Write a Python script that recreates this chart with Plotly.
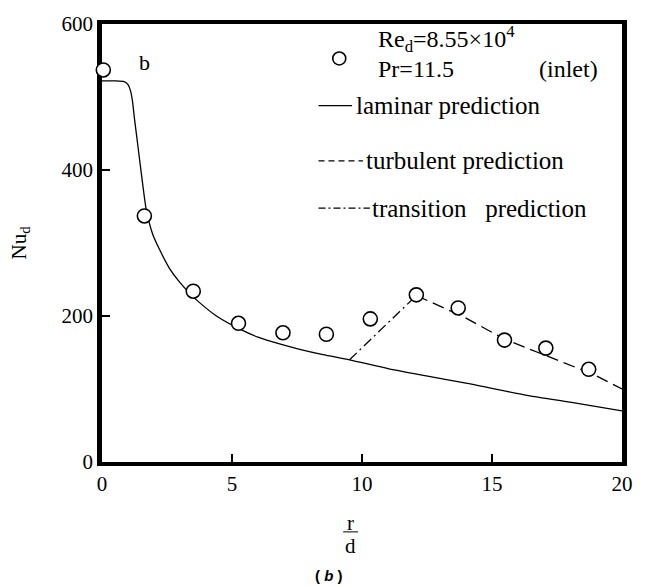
import plotly.graph_objects as go

# ---------------- data ----------------
exp_x = [0.05, 1.63, 3.51, 5.25, 6.96, 8.63, 10.32, 12.09, 13.7, 15.48, 17.07, 18.72]
exp_y = [537, 337, 234, 190, 177, 175, 196, 229, 211, 167, 156, 127]

lam_x = [0, 0.5, 0.85, 1.0, 1.1, 1.17, 1.25, 1.37, 1.56, 1.7, 1.95, 2.2, 2.6, 2.97,
         3.4, 3.73, 4.4, 5.25, 6.0, 6.9, 7.53, 8.5, 9.52, 11.0, 12.47, 14.0, 16.4, 18.0, 20.0]
lam_y = [522, 522, 521, 517, 508, 495, 470, 436, 382, 346, 312, 292, 265, 247,
         230, 219, 200, 183, 171, 161, 155, 147, 140, 128, 118, 108, 91, 82, 70]

tra_x = [9.52, 12.09]
tra_y = [140, 228]

tur_x = [12.09, 13.9, 15.5, 17.0, 18.9, 20.0]
tur_y = [228, 199, 168, 147, 120, 100]

x_ticks = [0, 5, 10, 15, 20]
y_ticks = [0, 200, 400, 600]

# ---------------- layout geometry ----------------
W, H = 645, 586
L, R, T, B = 102, 17, 17, 124
PW, PH = W - L - R, H - T - B


def px(x):
    return (x - L) / PW


def py(y):
    return (H - B - y) / PH


SERIF = "Liberation Serif"
SANS = "Liberation Sans"

fig = go.Figure()

fig.add_trace(go.Scatter(x=lam_x, y=lam_y, mode="lines",
                         line=dict(color="black", width=1.3, shape="spline", smoothing=0.6),
                         name="laminar prediction", showlegend=False))
fig.add_trace(go.Scatter(x=tra_x, y=tra_y, mode="lines",
                         line=dict(color="black", width=1.3, dash="10px,4px,2px,4px"),
                         name="transition prediction", showlegend=False))
fig.add_trace(go.Scatter(x=tur_x, y=tur_y, mode="lines",
                         line=dict(color="black", width=1.3, dash="12px,6px"),
                         name="turbulent prediction", showlegend=False))
fig.add_trace(go.Scatter(x=exp_x, y=exp_y, mode="markers", cliponaxis=False,
                         marker=dict(symbol="circle", size=14, color="white",
                                     line=dict(color="black", width=1.6)),
                         name="data", showlegend=False))

annos = []
shapes = []


def text(s, x, y, size, xanchor="left", font=SERIF):
    annos.append(dict(text=s, x=px(x), y=py(y), xref="paper", yref="paper",
                      xanchor=xanchor, yanchor="middle", showarrow=False,
                      font=dict(family=font, size=size, color="black")))


def seg(x0, x1, y, dash="solid"):
    shapes.append(dict(type="line", xref="paper", yref="paper",
                       x0=px(x0), x1=px(x1), y0=py(y), y1=py(y),
                       line=dict(color="black", width=1.3, dash=dash)))


# panel letter
text("b", 145, 56, 22, "center")

# legend block
shapes.append(dict(type="circle", xref="paper", yref="paper",
                   xsizemode="pixel", ysizemode="pixel",
                   xanchor=px(342), yanchor=py(52),
                   x0=-6.5, x1=6.5, y0=-6.5, y1=6.5,
                   line=dict(color="black", width=1.6), fillcolor="white"))
text("Re<sub>d</sub>=8.55×10<sup>4</sup>", 379, 32, 24)
text("Pr=11.5", 379, 63, 24)
text("(inlet)", 574, 63, 24, "center")

seg(321, 355, 100)
text("laminar prediction", 357, 100, 25)
seg(321, 366, 156, "6px,4px")
text("turbulent prediction", 367, 156, 25)
seg(321, 373, 204, "7px,3px,2px,3px")
text("transition\u00a0\u00a0\u00a0prediction", 373, 204, 25)

# x-axis title as fraction r/d
text("r", 353, 524, 21, "center")
shapes.append(dict(type="line", xref="paper", yref="paper",
                   x0=px(346), x1=px(361), y0=py(533), y1=py(533),
                   line=dict(color="black", width=1)))
text("d", 353, 547, 21, "center")

# sub-figure label
text("<b>( <i>b</i> )</b>", 332, 577, 15, "center", font=SANS)

fig.update_layout(
    width=W, height=H,
    margin=dict(l=L, r=R, t=T, b=B, pad=0),
    paper_bgcolor="white", plot_bgcolor="white",
    showlegend=False,
    annotations=annos, shapes=shapes,
    font=dict(family=SERIF, color="black"),
)

fig.update_xaxes(range=[0, 20], tickvals=x_ticks, ticktext=[str(v) for v in x_ticks],
                 showgrid=False, zeroline=False,
                 showline=True, linecolor="black", linewidth=4, mirror=True,
                 ticks="inside", ticklen=8, tickwidth=1.5, tickcolor="black",
                 tickfont=dict(family=SERIF, size=21, color="black"),
                 layer="below traces")
fig.update_yaxes(range=[0, 600], tickvals=y_ticks, ticktext=[str(v) for v in y_ticks],
                 showgrid=False, zeroline=False,
                 showline=True, linecolor="black", linewidth=4.5, mirror=True,
                 ticks="inside", ticklen=8, tickwidth=1.5, tickcolor="black",
                 tickfont=dict(family=SERIF, size=21, color="black"),
                 title=dict(text="Nu<sub>d</sub>", font=dict(family=SERIF, size=21, color="black"),
                            standoff=31),
                 layer="below traces")

fig.write_html("out.html")
